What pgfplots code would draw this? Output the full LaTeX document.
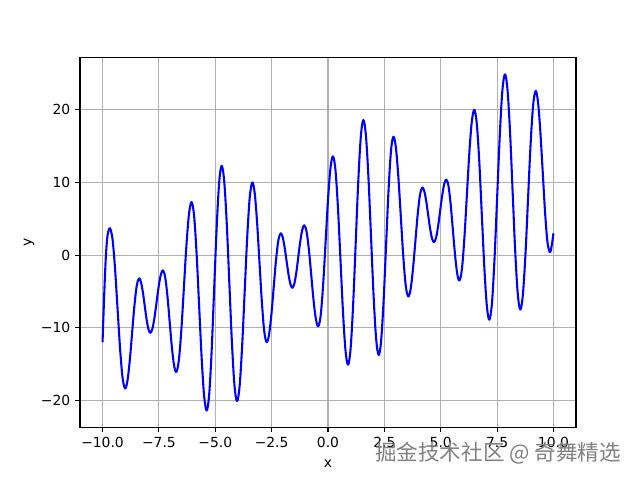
\documentclass[border=0pt]{standalone}
\usepackage{pgfplots}
\pgfplotsset{compat=1.18}
\usepackage{fontspec}
\setmainfont{DejaVu Sans}
\newfontfamily\cjk{Noto Sans CJK SC}
\definecolor{mplblue}{RGB}{0,0,255}
\definecolor{mplgrid}{RGB}{176,176,176}
\pgfplotstableread{
x y
-10.00 -12.0
-9.95 -7.5
-9.90 -3.4
-9.85 0.0
-9.80 2.1
-9.745 3.25
-9.67 3.7
-9.558 2.22
-9.447 -1.81
-9.335 -7.33
-9.223 -12.84
-9.112 -16.87
-9.00 -18.35
-8.897 -17.34
-8.793 -14.56
-8.69 -10.78
-8.587 -6.99
-8.483 -4.22
-8.38 -3.2
-8.297 -3.70
-8.213 -5.08
-8.13 -6.95
-8.047 -8.83
-7.963 -10.20
-7.88 -10.7
-7.787 -10.12
-7.693 -8.55
-7.60 -6.40
-7.507 -4.25
-7.413 -2.68
-7.32 -2.1
-7.222 -3.04
-7.123 -5.6
-7.025 -9.1
-6.927 -12.6
-6.828 -15.16
-6.73 -16.1
-6.617 -14.53
-6.503 -10.25
-6.39 -4.4
-6.277 1.45
-6.163 5.73
-6.05 7.3
-5.938 5.38
-5.827 0.13
-5.715 -7.05
-5.603 -14.23
-5.492 -19.48
-5.38 -21.4
-5.269 -19.14
-5.158 -12.98
-5.048 -4.55
-4.937 3.88
-4.826 10.04
-4.715 12.3
-4.602 10.13
-4.488 4.2
-4.375 -3.9
-4.262 -12.0
-4.148 -17.93
-4.035 -20.1
-3.922 -18.08
-3.809 -12.58
-3.696 -5.05
-3.583 2.48
-3.47 7.98
-3.357 10.0
-3.251 8.53
-3.145 4.5
-3.039 -1.0
-2.932 -6.5
-2.826 -10.53
-2.72 -12.0
-2.617 -11.0
-2.513 -8.25
-2.41 -4.5
-2.307 -0.75
-2.203 2.0
-2.10 3.0
-2.013 2.5
-1.927 1.13
-1.84 -0.75
-1.753 -2.63
-1.667 -4.0
-1.58 -4.5
-1.492 -3.92
-1.403 -2.35
-1.315 -0.2
-1.227 1.95
-1.138 3.52
-1.05 4.1
-0.947 3.17
-0.843 0.63
-0.74 -2.85
-0.637 -6.33
-0.533 -8.87
-0.43 -9.8
-0.322 -8.23
-0.213 -3.95
-0.105 1.9
0.003 7.75
0.112 12.03
0.22 13.6
0.332 11.68
0.443 6.43
0.555 -0.75
0.667 -7.93
0.778 -13.18
0.89 -15.1
1.003 -12.84
1.117 -6.68
1.23 1.75
1.343 10.18
1.457 16.34
1.57 18.6
1.683 16.43
1.797 10.51
1.91 2.43
2.023 -5.66
2.137 -11.58
2.25 -13.75
2.358 -11.74
2.467 -6.24
2.575 1.28
2.683 8.79
2.792 14.29
2.90 16.3
3.01 14.83
3.12 10.8
3.23 5.3
3.34 -0.2
3.45 -4.23
3.56 -5.7
3.664 -4.7
3.768 -1.95
3.873 1.8
3.977 5.55
4.081 8.3
4.185 9.3
4.271 8.8
4.357 7.43
4.443 5.55
4.528 3.68
4.614 2.3
4.70 1.8
4.792 2.38
4.883 3.95
4.975 6.1
5.067 8.25
5.158 9.82
5.25 10.4
5.347 9.47
5.443 6.93
5.54 3.45
5.637 -0.03
5.733 -2.57
5.83 -3.5
5.94 -1.93
6.05 2.38
6.16 8.25
6.27 14.13
6.38 18.43
6.49 20.0
6.601 18.06
6.712 12.78
6.823 5.55
6.934 -1.68
7.045 -6.96
7.156 -8.9
7.272 -6.64
7.387 -0.45
7.503 8.0
7.619 16.45
7.734 22.64
7.85 24.9
7.963 22.73
8.077 16.8
8.19 8.7
8.303 0.6
8.417 -5.33
8.53 -7.5
8.643 -5.48
8.757 0.03
8.87 7.55
8.983 15.08
9.097 20.58
9.21 22.6
9.314 21.11
9.418 17.05
9.523 11.5
9.627 5.95
9.731 1.89
9.835 0.4
9.89 0.75
9.945 1.75
10.00 3.0
}\curve
\begin{document}
\begin{tikzpicture}
\begin{axis}[
  scale only axis, width=357.12pt, height=266.11pt,
  xmin=-11, xmax=11, ymin=-23.7, ymax=27.2,
  xtick={-10,-7.5,-5,-2.5,0,2.5,5,7.5,10},
  xticklabels={−10.0,−7.5,−5.0,−2.5,0.0,2.5,5.0,7.5,10.0},
  ytick={-20,-10,0,10,20},
  yticklabels={−20,−10,0,10,20},
  tick pos=left, tick align=outside, major tick length=3.5pt,
  every tick/.style={black, line width=0.8pt},
  grid=major, major grid style={color=mplgrid, line width=0.8pt},
  axis line style={line width=0.8pt},
  tick label style={font=\fontsize{10}{12}\selectfont},
  label style={font=\fontsize{10}{12}\selectfont},
  xlabel={x}, ylabel={y},
  xlabel style={yshift=-2pt},
  ylabel style={yshift=-2pt},
]
\addplot[mplblue, line width=1.5pt, smooth, tension=0.55, line join=round] table[x=x,y=y] {\curve};
\end{axis}
\path[use as bounding box] (current axis.south west) ++(-57.6pt,-38.02pt) rectangle ([shift={(46.08pt,41.47pt)}]current axis.north east);
\node[text=black!50, font=\cjk\fontsize{15.5}{18}\selectfont] at ([shift={(301pt,-18.6pt)}]current axis.south west) {掘金技术社区 @ 奇舞精选};
\end{tikzpicture}
\end{document}
